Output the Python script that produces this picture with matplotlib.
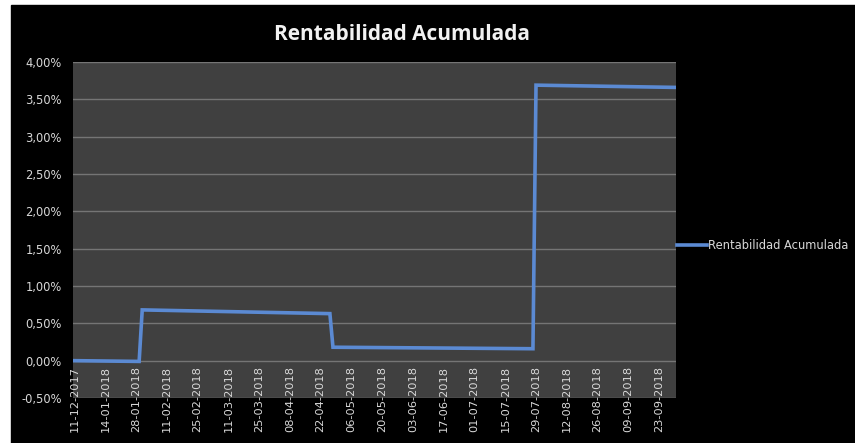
"""Rentabilidad acumulada: step-like cumulative return on a category axis."""
import matplotlib
matplotlib.use("Agg")
import matplotlib.pyplot as plt
from matplotlib.patches import Rectangle
from matplotlib.ticker import FuncFormatter, MultipleLocator

# --- data ------------------------------------------------------------------
n_categories = 196  # trading days shown on the category axis
# vertices of the polyline (category index, cumulative return)
vertex_idx = [0, 21, 22, 83, 84, 149, 150, 195]
vertex_val = [0.0000, -0.0001, 0.0068, 0.0063, 0.0018, 0.0016, 0.0369, 0.0366]
tick_idx = [0, 10, 20, 30, 40, 50, 60, 70, 80, 90,
            100, 110, 120, 130, 140, 150, 160, 170, 180, 190]
tick_labels = ["11-12-2017", "14-01-2018", "28-01-2018", "11-02-2018",
               "25-02-2018", "11-03-2018", "25-03-2018", "08-04-2018",
               "22-04-2018", "06-05-2018", "20-05-2018", "03-06-2018",
               "17-06-2018", "01-07-2018", "15-07-2018", "29-07-2018",
               "12-08-2018", "26-08-2018", "09-09-2018", "23-09-2018"]
series_name = "Rentabilidad Acumulada"
title = "Rentabilidad Acumulada"

# --- styling ---------------------------------------------------------------
W, H = 855, 443
fig = plt.figure(figsize=(W / 100, H / 100), dpi=100, facecolor="white")
# black chart area (the screenshot keeps a thin white margin top/left)
fig.patches.append(Rectangle((11 / W, 0), 1 - 11 / W, 1 - 5 / H,
                             transform=fig.transFigure, color="black",
                             zorder=-10))

ax = fig.add_axes([73 / W, 1 - 398 / H, (676 - 73) / W, (398 - 62) / H])
ax.set_facecolor("#404040")

ax.plot(vertex_idx, vertex_val, color="#5b8ad3", lw=2.6,
        solid_joinstyle="miter", label=series_name, zorder=3)

# labels hang below the 0 % line, as Excel does (set before the ticks,
# moving the spine resets them)
ax.spines["bottom"].set_position(("data", 0))
for side in ("top", "right", "bottom", "left"):
    ax.spines[side].set_visible(False)

ax.set_xlim(-0.5, n_categories - 0.5)
ax.set_ylim(-0.005, 0.04)
ax.yaxis.set_major_locator(MultipleLocator(0.005))
ax.yaxis.set_major_formatter(
    FuncFormatter(lambda v, _: "{:.2f}%".format(v * 100).replace(".", ",")))
ax.grid(True, axis="y", color="#757575", lw=1.0, zorder=1)

ax.set_xticks(tick_idx)
ax.set_xticklabels(tick_labels, rotation=90, fontsize=8.2, color="#d8d8d8")
ax.tick_params(axis="x", length=0, pad=4)
ax.tick_params(axis="y", length=0, pad=8, labelsize=8.3, labelcolor="#d8d8d8")

leg = ax.legend(loc="center left", bbox_to_anchor=(1.0, (398 - 246) / 336),
                frameon=False, borderaxespad=0.1, borderpad=0,
                handlelength=2.6, handletextpad=0.1, fontsize=8.3)
for text in leg.get_texts():
    text.set_color("#d8d8d8")

fig.text(402 / W, 1 - 35 / H, title, ha="center", va="center",
         fontsize=15, fontweight="bold", color="#f2f2f2",
         family=["Open Sans", "DejaVu Sans"])

fig.savefig("out.png", dpi=100, facecolor=fig.get_facecolor())
